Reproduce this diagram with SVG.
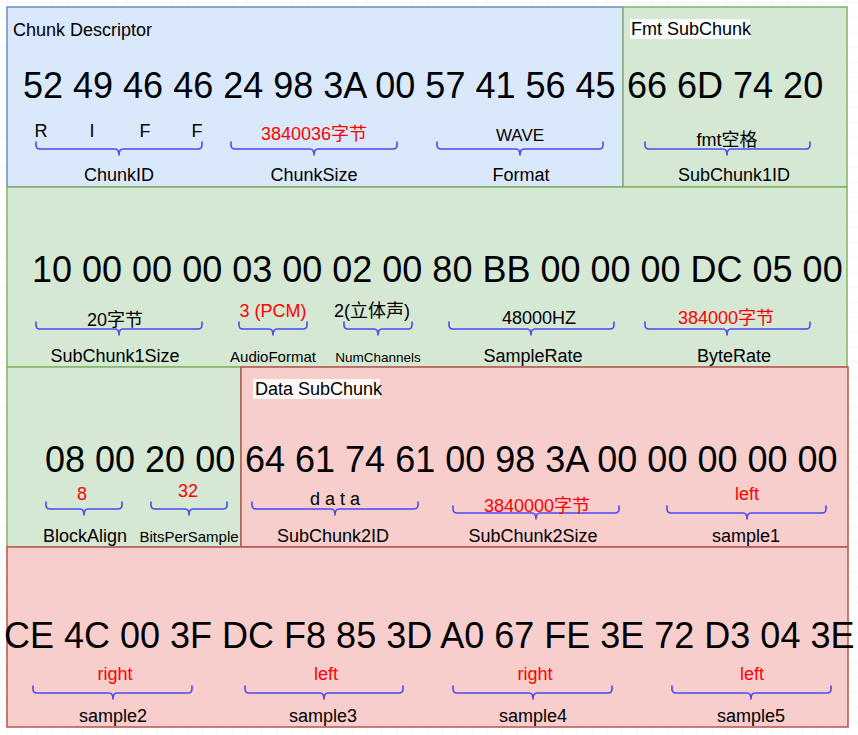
<svg xmlns="http://www.w3.org/2000/svg" width="858" height="735" viewBox="0 0 858 735">
<defs>
<pattern id="grid" x="6.7" y="1.7" width="15" height="15" patternUnits="userSpaceOnUse">
<path d="M15 0H0V15" fill="none" stroke="#ececec" stroke-width="1"/>
</pattern>
<style>
text{font-family:"Liberation Sans","Noto Sans CJK SC",Arial,sans-serif;fill:#000}
.hex{font-size:36px}
.t{font-size:18px;text-anchor:middle}
.s{font-size:15px;text-anchor:middle}
.r{fill:#ff0000}
.title{font-size:18px}
.brace{fill:none;stroke:#4a4af5;stroke-width:1.6;stroke-linejoin:round;stroke-linecap:round}
.blue{fill:#dae8fc;stroke:#6c8ebf;stroke-width:1.5}
.green{fill:#d5e8d4;stroke:#82b366;stroke-width:1.5}
.red{fill:#f8cecc;stroke:#b85450;stroke-width:1.5}
.lblbg{fill:#ffffff;fill-opacity:0.85}
</style>
</defs>
<rect width="858" height="735" fill="#ffffff"/>
<rect width="858" height="735" fill="url(#grid)"/>

<g id="chunk-descriptor">
<rect class="blue" x="7" y="7" width="616" height="180"/>
<text class="title" x="13" y="36">Chunk Descriptor</text>
<text class="hex" x="23" y="98">52 49 46 46 24 98 3A 00 57 41 56 45</text>
</g>
<g id="fmt-subchunk-top">
<rect class="green" x="623" y="7" width="224" height="180"/>
<rect class="lblbg" x="630" y="19" width="120" height="20"/>
<text class="title" x="631" y="35">Fmt SubChunk</text>
<text class="hex" x="627" y="98">66 6D 74 20</text>
</g>
<g id="fmt-subchunk-row2">
<rect class="green" x="7" y="187" width="840" height="180"/>
<text class="hex" x="32" y="282">10 00 00 00 03 00 02 00 80 BB 00 00 00 DC 05 00</text>
</g>
<g id="fmt-subchunk-row3">
<rect class="green" x="7" y="367" width="234" height="180"/>
<text class="hex" x="45" y="472">08 00 20 00</text>
</g>
<g id="data-subchunk">
<rect class="red" x="241" y="367" width="607" height="180"/>
<rect class="lblbg" x="253" y="379" width="127" height="20"/>
<text class="title" x="255" y="395">Data SubChunk</text>
<text class="hex" x="245" y="472">64 61 74 61 00 98 3A 00 00 00 00 00</text>
</g>
<g id="data-samples">
<rect class="red" x="7" y="547" width="841" height="180"/>
<text class="hex" x="4" y="648">CE 4C 00 3F DC F8 85 3D A0 67 FE 3E 72 D3 04 3E</text>
</g>

<g id="field-chunkid">
<text class="t" x="41" y="137">R</text><text class="t" x="92" y="137">I</text><text class="t" x="145" y="137">F</text><text class="t" x="197" y="137">F</text>
<path class="brace" d="M36 142V145Q36 149 40 149H115Q119 149 119 155Q119 149 123 149H198Q202 149 202 145V142"/>
<text class="t" x="119" y="181">ChunkID</text>
</g>
<g id="field-chunksize">
<text class="t r" x="314" y="140">3840036字节</text>
<path class="brace" d="M231 142V145Q231 149 235 149H310Q314 149 314 155Q314 149 318 149H393Q397 149 397 145V142"/>
<text class="t" x="314" y="181">ChunkSize</text>
</g>
<g id="field-format">
<text class="t" x="520" y="141" style="font-size:17px">WAVE</text>
<path class="brace" d="M437 142V145Q437 149 441 149H516Q520 149 520 155Q520 149 524 149H599Q603 149 603 145V142"/>
<text class="t" x="521" y="181">Format</text>
</g>
<g id="field-subchunk1id">
<text class="t" x="727" y="146">fmt空格</text>
<path class="brace" d="M645 142V145Q645 149 649 149H723Q727 149 727 155Q727 149 731 149H806Q810 149 810 145V142"/>
<text class="t" x="734" y="181">SubChunk1ID</text>
</g>

<g id="field-subchunk1size">
<text class="t" x="115" y="326">20字节</text>
<path class="brace" d="M36 322V325Q36 329 40 329H115Q119 329 119 335Q119 329 123 329H198Q202 329 202 325V322"/>
<text class="t" x="115" y="362">SubChunk1Size</text>
</g>
<g id="field-audioformat">
<text class="t r" x="273" y="317">3 (PCM)</text>
<path class="brace" d="M239 322V325Q239 329 243 329H269Q273 329 273 335Q273 329 277 329H303Q307 329 307 325V322"/>
<text class="s" x="273" y="362">AudioFormat</text>
</g>
<g id="field-numchannels">
<text class="t" x="372" y="317">2(立体声)</text>
<path class="brace" d="M344 322V325Q344 329 348 329H374Q378 329 378 335Q378 329 382 329H408Q412 329 412 325V322"/>
<text class="s" x="378" y="362" style="font-size:13.5px">NumChannels</text>
</g>
<g id="field-samplerate">
<text class="t" x="539" y="324">48000HZ</text>
<path class="brace" d="M449 322V325Q449 329 453 329H527Q531 329 531 335Q531 329 535 329H610Q614 329 614 325V322"/>
<text class="t" x="533" y="362">SampleRate</text>
</g>
<g id="field-byterate">
<text class="t r" x="726" y="324">384000字节</text>
<path class="brace" d="M645 322V325Q645 329 649 329H723Q727 329 727 335Q727 329 731 329H806Q810 329 810 325V322"/>
<text class="t" x="734" y="362">ByteRate</text>
</g>

<g id="field-blockalign">
<text class="t r" x="82" y="500">8</text>
<path class="brace" d="M46 502V505Q46 509 50 509H80Q84 509 84 515Q84 509 88 509H118Q122 509 122 505V502"/>
<text class="t" x="85" y="542">BlockAlign</text>
</g>
<g id="field-bitspersample">
<text class="t r" x="188" y="497">32</text>
<path class="brace" d="M151 502V505Q151 509 155 509H185Q189 509 189 515Q189 509 193 509H223Q227 509 227 505V502"/>
<text class="s" x="189" y="542">BitsPerSample</text>
</g>
<g id="field-subchunk2id">
<text class="t" x="335" y="505" xml:space="preserve">d a t a</text>
<path class="brace" d="M252 502V505Q252 509 256 509H331Q335 509 335 515Q335 509 339 509H414Q418 509 418 505V502"/>
<text class="t" x="333" y="542">SubChunk2ID</text>
</g>
<g id="field-subchunk2size">
<path class="brace" d="M453 506V509Q453 513 457 513H532Q536 513 536 519Q536 513 540 513H615Q619 513 619 509V506"/>
<text class="t r" x="537" y="512">3840000字节</text>
<text class="t" x="533" y="542">SubChunk2Size</text>
</g>
<g id="field-sample1">
<text class="t r" x="747" y="500">left</text>
<path class="brace" d="M667 506V509Q667 513 671 513H743Q747 513 747 519Q747 513 751 513H822Q826 513 826 509V506"/>
<text class="t" x="746" y="542">sample1</text>
</g>

<g id="field-sample2">
<text class="t r" x="115" y="680">right</text>
<path class="brace" d="M33 686V689Q33 693 37 693H109Q113 693 113 699Q113 693 117 693H188Q192 693 192 689V686"/>
<text class="t" x="113" y="722">sample2</text>
</g>
<g id="field-sample3">
<text class="t r" x="326" y="680">left</text>
<path class="brace" d="M245 686V689Q245 693 249 693H320Q324 693 324 699Q324 693 328 693H399Q403 693 403 689V686"/>
<text class="t" x="323" y="722">sample3</text>
</g>
<g id="field-sample4">
<text class="t r" x="535" y="680">right</text>
<path class="brace" d="M453 686V689Q453 693 457 693H529Q533 693 533 699Q533 693 537 693H608Q612 693 612 689V686"/>
<text class="t" x="533" y="722">sample4</text>
</g>
<g id="field-sample5">
<text class="t r" x="752" y="680">left</text>
<path class="brace" d="M672 686V689Q672 693 676 693H747Q751 693 751 699Q751 693 755 693H827Q831 693 831 689V686"/>
<text class="t" x="751" y="722">sample5</text>
</g>
<g id="connectors"/>
</svg>
